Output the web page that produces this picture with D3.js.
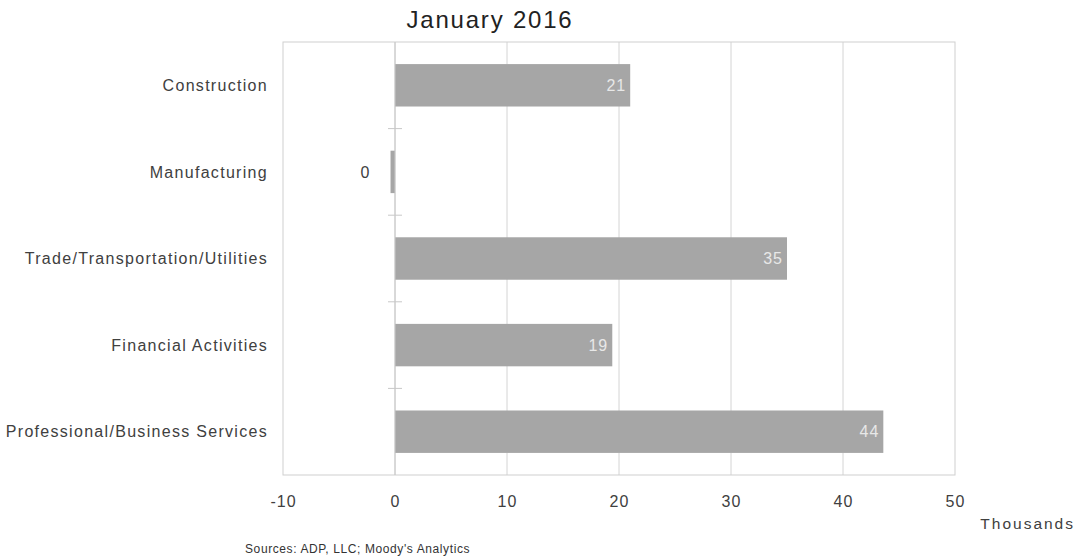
<!DOCTYPE html>
<html>
<head>
<meta charset="utf-8">
<script src="https://cdn.jsdelivr.net/npm/d3@7"></script>
<style>
  body { margin:0; background:#fff; }
  text { font-family: "Liberation Sans", Arial, sans-serif; }
</style>
</head>
<body>
<svg class="one"></svg>
<script>
var sectors = ['Construction','Manufacturing','Trade/Transportation/Utilities','Financial Activities','Professional/Business Services'];
var jobs = [21, -0.4, 35, 19.4, 43.6];
var xTicks = [-10, 0, 10, 20, 30, 40, 50];

var svgwidth = 1077;
var svgheight = 558;

var margins = { top:42, bottom:83, left:283, right:122 };

var width = svgwidth - margins.left - margins.right;
var height = svgheight - margins.top - margins.bottom;

var svg = d3.select('.one')
            .attr('width', svgwidth)
            .attr('height', svgheight);

var xScale = d3.scaleLinear()
               .domain([-10, 50])
               .range([0, width]);

var yScale = d3.scaleBand()
               .domain(sectors)
               .range([0, height])
               .paddingInner(0.51)
               .paddingOuter(0.255);

var data = sectors.map(function(s, i){ return {sector:s, value:jobs[i]}; });

var plot = svg.append('g')
              .attr('transform', 'translate(' + margins.left + ',' + margins.top + ')');

// gridlines
plot.selectAll('.grid').data(xTicks.slice(1, -1)).enter()
    .append('line')
    .attr('x1', function(d){ return xScale(d); })
    .attr('x2', function(d){ return xScale(d); })
    .attr('y1', 0).attr('y2', height)
    .attr('stroke', '#d4d4d4');

// frame
plot.append('rect')
    .attr('width', width).attr('height', height)
    .attr('fill', 'none').attr('stroke', '#cfcfcf');

// bars
plot.selectAll('.bar').data(data).enter()
    .append('rect')
    .attr('x', function(d){ return xScale(Math.min(0, d.value)); })
    .attr('width', function(d){ return Math.abs(xScale(d.value) - xScale(0)); })
    .attr('y', function(d){ return yScale(d.sector); })
    .attr('height', yScale.bandwidth())
    .attr('fill', '#a6a6a6');

// category ticks on zero line
var step = yScale.step();
var tickPos = sectors.slice(1).map(function(s){ return yScale(s) - step * yScale.paddingInner() / 2; });
plot.selectAll('.ctick').data(tickPos).enter()
    .append('line')
    .attr('x1', xScale(0) - 7).attr('x2', xScale(0) + 7)
    .attr('y1', function(d){ return d; }).attr('y2', function(d){ return d; })
    .attr('stroke', '#c8c8c8');

plot.append('line')
    .attr('x1', xScale(0)).attr('x2', xScale(0))
    .attr('y1', 0).attr('y2', height)
    .attr('stroke', '#c8c8c8');

// value labels
var fmt = d3.format('.0f');
plot.selectAll('.val').data(data).enter()
    .append('text')
    .attr('x', function(d){ return d.value > 2 ? xScale(d.value) - 4 : xScale(Math.min(0, d.value)) - 20; })
    .attr('y', function(d){ return yScale(d.sector) + yScale.bandwidth() / 2; })
    .attr('dy', '0.36em')
    .attr('text-anchor', 'end')
    .attr('font-size', 16)
    .attr('letter-spacing', 1)
    .attr('fill', function(d){ return d.value > 2 ? '#e8e8e8' : '#404040'; })
    .text(function(d){ return fmt(d.value); });

// y axis labels
plot.selectAll('.cat').data(sectors).enter()
    .append('text')
    .attr('x', -15)
    .attr('y', function(d){ return yScale(d) + yScale.bandwidth() / 2; })
    .attr('dy', '0.36em')
    .attr('text-anchor', 'end')
    .attr('font-size', 16)
    .attr('letter-spacing', 1.3)
    .attr('fill', '#404040')
    .text(function(d){ return d; });

// x axis
var xAxis = d3.axisBottom(xScale).tickValues(xTicks).tickSize(0).tickPadding(21)
              .tickFormat(function(d){ return String(d); });
var gx = plot.append('g')
    .attr('transform', 'translate(0,' + height + ')')
    .call(xAxis);
gx.select('.domain').remove();
gx.selectAll('text').attr('font-size', 16).attr('fill', '#404040')
  .attr('letter-spacing', 1)
  .attr('font-family', '"Liberation Sans", Arial, sans-serif');

// title
svg.append('text')
   .attr('x', 490).attr('y', 28)
   .attr('text-anchor', 'middle')
   .attr('font-size', 24)
   .attr('letter-spacing', 1.8)
   .attr('fill', '#222')
   .text('January 2016');

svg.append('text')
   .attr('x', 1075).attr('y', 529)
   .attr('text-anchor', 'end')
   .attr('font-size', 15.5)
   .attr('letter-spacing', 2)
   .attr('fill', '#404040')
   .text('Thousands');

svg.append('text')
   .attr('x', 245).attr('y', 553)
   .attr('font-size', 12)
   .attr('letter-spacing', 0.6)
   .attr('fill', '#333')
   .text("Sources: ADP, LLC; Moody's Analytics");
</script>
</body>
</html>
